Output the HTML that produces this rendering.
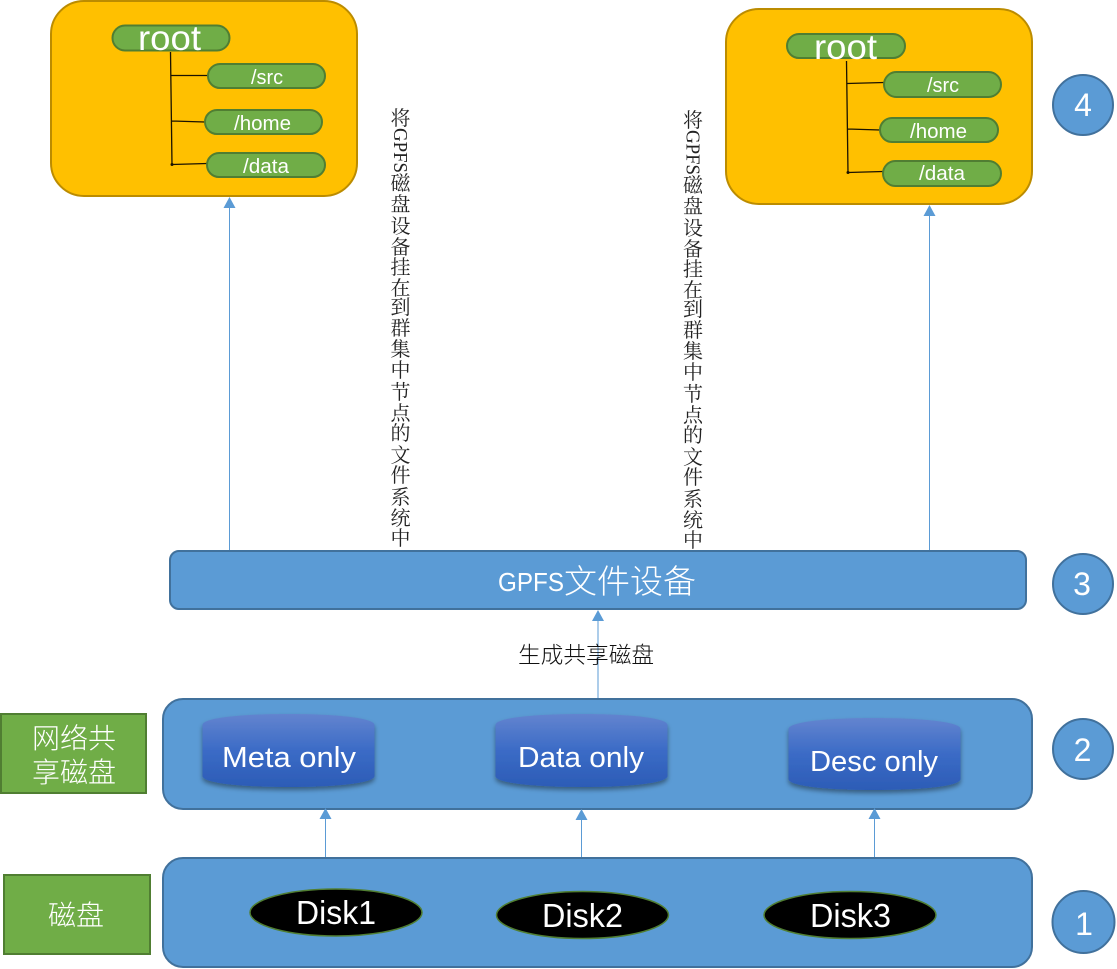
<!DOCTYPE html>
<html>
<head>
<meta charset="utf-8">
<style>
html,body{margin:0;padding:0;background:#fff;width:1117px;height:969px;overflow:hidden}
svg{display:block}
text{font-family:"Liberation Sans","Noto Sans CJK SC",sans-serif;fill:#fff}
.cjk{font-family:"Noto Sans CJK SC","WenQuanYi Zen Hei",sans-serif;font-weight:300}
.v{font-family:"Noto Serif CJK SC","Liberation Serif",serif;font-size:20px;fill:#222;text-anchor:middle}
.vl{font-family:"Liberation Serif",serif;font-size:20px;fill:#222}
.m{text-anchor:middle}
.box{fill:#5b9bd5;stroke:#41719c;stroke-width:2}
.org{fill:#ffc000;stroke:#bc8c00;stroke-width:2}
.pill{fill:#70ad47;stroke:#507e32;stroke-width:2}
.grn{fill:#70ad47;stroke:#507e32;stroke-width:2}
.disk{fill:#000;stroke:#507e32;stroke-width:1.5}
.arr{stroke:#5b9bd5;stroke-width:1;fill:none}
.tree{stroke:#1a1200;stroke-width:1.3;fill:none}
</style>
</head>
<body>
<svg width="1117" height="969" viewBox="0 0 1117 969" xmlns="http://www.w3.org/2000/svg">
<defs>
<linearGradient id="cyl" x1="0" y1="0" x2="0" y2="1">
<stop offset="0" stop-color="#6384cf"/>
<stop offset="0.5" stop-color="#3b6bc6"/>
<stop offset="1" stop-color="#2c5cb6"/>
</linearGradient>
<filter id="sh" x="-10%" y="-10%" width="120%" height="130%">
<feDropShadow dx="0" dy="3" stdDeviation="2.5" flood-color="#000" flood-opacity="0.4"/>
</filter>
</defs>

<!-- Left orange panel -->
<rect class="org" x="51" y="1" width="306" height="195" rx="33"/>
<path class="tree" d="M170.500 52L172 165M171 75.500H208M172 121L205 122M172 164.500L207 163.500"/>
<circle cx="172" cy="164.500" r="1.500" fill="#1a1200"/>
<rect class="pill" x="112.500" y="25.500" width="117" height="25" rx="12.500"/>
<rect class="pill" x="208" y="64" width="117" height="24" rx="12"/>
<rect class="pill" x="205" y="110" width="117" height="24" rx="12"/>
<rect class="pill" x="207" y="153" width="118" height="24" rx="12"/>
<text x="138" y="50" font-size="35" textLength="63" lengthAdjust="spacingAndGlyphs">root</text>
<text x="251" y="84" font-size="20" textLength="32" lengthAdjust="spacingAndGlyphs">/src</text>
<text x="234" y="130" font-size="20" textLength="57" lengthAdjust="spacingAndGlyphs">/home</text>
<text x="243" y="173" font-size="20" textLength="46" lengthAdjust="spacingAndGlyphs">/data</text>

<!-- Right orange panel -->
<rect class="org" x="726" y="9" width="306" height="195" rx="33"/>
<path class="tree" d="M846.500 61L848 173M847 83.500L884 82.500M848 129L880 130M848 172.500L883 171.500"/>
<circle cx="848" cy="172.500" r="1.500" fill="#1a1200"/>
<rect class="pill" x="787" y="34" width="118" height="24" rx="12"/>
<rect class="pill" x="884" y="72" width="117" height="25" rx="12.500"/>
<rect class="pill" x="880" y="118" width="118" height="24" rx="12"/>
<rect class="pill" x="883" y="161" width="118" height="25" rx="12.500"/>
<text x="814" y="59" font-size="35" textLength="63" lengthAdjust="spacingAndGlyphs">root</text>
<text x="927" y="92" font-size="20" textLength="32" lengthAdjust="spacingAndGlyphs">/src</text>
<text x="910" y="138" font-size="20" textLength="57" lengthAdjust="spacingAndGlyphs">/home</text>
<text x="919" y="180" font-size="20" textLength="46" lengthAdjust="spacingAndGlyphs">/data</text>

<!-- Vertical text left -->
<text class="v" x="400.500" y="125">将</text>
<text class="vl" transform="translate(394,128) rotate(90)" textLength="45" lengthAdjust="spacingAndGlyphs">GPFS</text>
<text class="v" x="400.500" y="190">磁</text>
<text class="v" x="400.500" y="211">盘</text>
<text class="v" x="400.500" y="233">设</text>
<text class="v" x="400.500" y="254">备</text>
<text class="v" x="400.500" y="274">挂</text>
<text class="v" x="400.500" y="295">在</text>
<text class="v" x="400.500" y="314">到</text>
<text class="v" x="400.500" y="335">群</text>
<text class="v" x="400.500" y="356">集</text>
<text class="v" x="400.500" y="377">中</text>
<text class="v" x="400.500" y="399">节</text>
<text class="v" x="400.500" y="420">点</text>
<text class="v" x="400.500" y="440">的</text>
<text class="v" x="400.500" y="462">文</text>
<text class="v" x="400.500" y="482">件</text>
<text class="v" x="400.500" y="504">系</text>
<text class="v" x="400.500" y="525">统</text>
<text class="v" x="400.500" y="545">中</text>

<!-- Vertical text right -->
<text class="v" x="693" y="127">将</text>
<text class="vl" transform="translate(686.500,130) rotate(90)" textLength="45" lengthAdjust="spacingAndGlyphs">GPFS</text>
<text class="v" x="693" y="192">磁</text>
<text class="v" x="693" y="213">盘</text>
<text class="v" x="693" y="235">设</text>
<text class="v" x="693" y="256">备</text>
<text class="v" x="693" y="276">挂</text>
<text class="v" x="693" y="297">在</text>
<text class="v" x="693" y="316">到</text>
<text class="v" x="693" y="337">群</text>
<text class="v" x="693" y="358">集</text>
<text class="v" x="693" y="379">中</text>
<text class="v" x="693" y="401">节</text>
<text class="v" x="693" y="422">点</text>
<text class="v" x="693" y="442">的</text>
<text class="v" x="693" y="464">文</text>
<text class="v" x="693" y="484">件</text>
<text class="v" x="693" y="506">系</text>
<text class="v" x="693" y="527">统</text>
<text class="v" x="693" y="547">中</text>

<!-- Row 3 -->
<rect class="box" x="170" y="551" width="856" height="58" rx="9"/>
<text x="498" y="591" font-size="26" textLength="66" lengthAdjust="spacingAndGlyphs">GPFS</text>
<text class="cjk" x="564" y="593" font-size="33">文件设备</text>

<!-- Row 2 -->
<rect class="box" x="163" y="699" width="869" height="110" rx="20"/>
<path filter="url(#sh)" fill="url(#cyl)" d="M202.500 725C202.500 718 240 714 288.500 714C337 714 374.500 718 374.500 725V776C374.500 783 337 787 288.500 787C240 787 202.500 783 202.500 776Z"/>
<path filter="url(#sh)" fill="url(#cyl)" d="M495.500 725C495.500 718 533 714 581.500 714C630 714 667.500 718 667.500 725V776C667.500 783 630 787 581.500 787C533 787 495.500 783 495.500 776Z"/>
<path filter="url(#sh)" fill="url(#cyl)" d="M788.500 729C788.500 722 826 718 874.500 718C923 718 960.500 722 960.500 729V779C960.500 786 923 790 874.500 790C826 790 788.500 786 788.500 779Z"/>
<text x="222" y="767" font-size="29" textLength="134" lengthAdjust="spacingAndGlyphs">Meta only</text>
<text x="518" y="767" font-size="29" textLength="126" lengthAdjust="spacingAndGlyphs">Data only</text>
<text x="810" y="771" font-size="29" textLength="128" lengthAdjust="spacingAndGlyphs">Desc only</text>

<!-- Row 1 -->
<rect class="box" x="163" y="858" width="869" height="109" rx="20"/>
<ellipse class="disk" cx="336" cy="912.500" rx="86" ry="23.500"/>
<ellipse class="disk" cx="582.500" cy="915" rx="86" ry="23.500"/>
<ellipse class="disk" cx="850" cy="915" rx="86" ry="23.500"/>
<text x="296" y="924" font-size="33" textLength="80" lengthAdjust="spacingAndGlyphs">Disk1</text>
<text x="542" y="927" font-size="33" textLength="81" lengthAdjust="spacingAndGlyphs">Disk2</text>
<text x="810" y="927" font-size="33" textLength="81" lengthAdjust="spacingAndGlyphs">Disk3</text>

<!-- Green labels -->
<rect class="grn" x="1" y="714" width="145" height="79"/>
<text class="cjk m" x="74" y="748" font-size="28">网络共</text>
<text class="cjk m" x="74" y="782" font-size="28">享磁盘</text>
<rect class="grn" x="4" y="875" width="146" height="79"/>
<text class="cjk m" x="76" y="925" font-size="28">磁盘</text>

<!-- Arrows -->
<path class="arr" d="M229.500 550V205M929.500 550V213M598 698V618M325.500 857V818M581.500 857V818M874.500 857V818"/>
<path fill="#5b9bd5" d="M229.500 197l6 11h-12zM929.500 205l6 11h-12zM598 610l6 11h-12zM325.500 808l6 11h-12zM581.500 809l6 11h-12zM874.500 808l6 11h-12z"/>
<text class="cjk" x="518" y="663" font-size="22.700" style="fill:#111">生成共享磁盘</text>

<!-- Circles -->
<circle class="box" cx="1083" cy="105" r="30"/>
<circle class="box" cx="1083" cy="584" r="30"/>
<circle class="box" cx="1083" cy="749" r="30"/>
<circle class="box" cx="1083.500" cy="922" r="31"/>
<text class="m" x="1083" y="116" font-size="32">4</text>
<text class="m" x="1082" y="595" font-size="32">3</text>
<text class="m" x="1082.500" y="761" font-size="32">2</text>
<text class="m" x="1084" y="935" font-size="32">1</text>
</svg>
</body>
</html>
